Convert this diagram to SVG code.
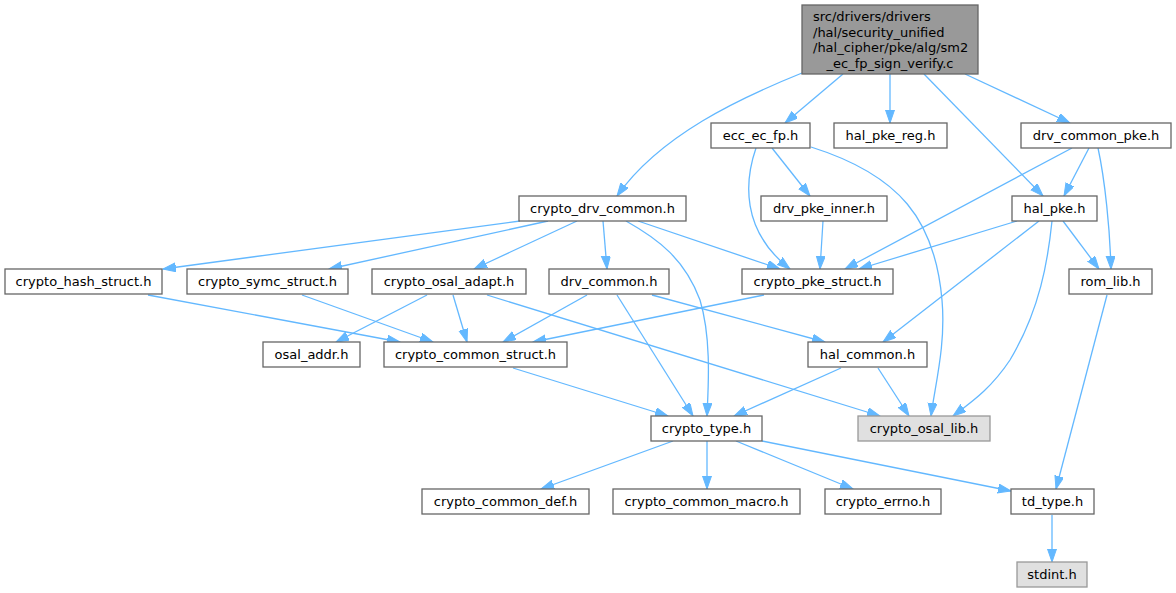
<svg xmlns="http://www.w3.org/2000/svg" width="1176" height="593" viewBox="0 0 1176 593">
<style>
.n rect{fill:#ffffff;stroke:#666666;stroke-width:1.3}
.g rect{fill:#e0e0e0;stroke:#999999;stroke-width:1.3}
.r rect{fill:#999999;stroke:#666666;stroke-width:1.3}
text{font-family:"DejaVu Sans","Liberation Sans",sans-serif;font-size:13px;fill:#000000}
.c{text-anchor:middle}
#edges path{fill:none;stroke:#63b8ff;stroke-width:1.3;marker-end:url(#ah)}
</style>
<defs>
<marker id="ah" markerUnits="userSpaceOnUse" markerWidth="14" markerHeight="10" refX="13" refY="4.5" orient="auto" viewBox="0 0 14 10">
<path d="M0,0 L13,4.5 L0,9 z" fill="#63b8ff" stroke="#63b8ff" stroke-width="1"/>
</marker>
</defs>
<rect width="1176" height="593" fill="#ffffff"/>
<g id="edges">
<path d="M802,73 C740,98 660,135 617,196"/>
<path d="M843,74 L785,123"/>
<path d="M890,74 L890,123"/>
<path d="M924,74 L1043,196"/>
<path d="M965,74 L1070,123"/>
<path d="M772,148 L810,196"/>
<path d="M756,148 C745,180 740,230 790,269"/>
<path d="M811,147 C900,175 935,220 942,300 C946,345 935,385 931,416"/>
<path d="M1072,148 L845,269"/>
<path d="M1089,148 L1064,196"/>
<path d="M1098,148 C1105,180 1110,230 1111,269"/>
<path d="M520,221 L163,269"/>
<path d="M548,221 L329,269"/>
<path d="M577,221 L474,269"/>
<path d="M603,221 L607,269"/>
<path d="M626,221 C660,240 685,260 700,300 C712,340 708,390 707,416"/>
<path d="M638,221 L780,269"/>
<path d="M148,295 L400,342"/>
<path d="M302,295 L433,342"/>
<path d="M427,295 L336,342"/>
<path d="M453,295 L467,342"/>
<path d="M487,295 L880,416"/>
<path d="M587,295 L503,342"/>
<path d="M617,295 L693,416"/>
<path d="M652,295 L825,342"/>
<path d="M764,295 L533,342"/>
<path d="M823,221 L820,269"/>
<path d="M1017,221 L859,269"/>
<path d="M1039,221 L883,342"/>
<path d="M1052,221 C1048,260 1040,310 1010,360 C990,390 970,403 953,416"/>
<path d="M1063,221 L1099,269"/>
<path d="M1107,295 L1056,489"/>
<path d="M841,368 L734,416"/>
<path d="M878,368 L909,416"/>
<path d="M513,368 L668,416"/>
<path d="M673,441 L541,489"/>
<path d="M707,441 L707,489"/>
<path d="M736,441 L853,489"/>
<path d="M762,441 L1011,491"/>
<path d="M1052,515 L1052,562"/>
</g>
<g id="root" class="r"><rect x="802" y="5" width="176" height="69"/>
<text x="813" y="21">src/drivers/drivers</text>
<text x="813" y="36.5">/hal/security_unified</text>
<text x="813" y="52">/hal_cipher/pke/alg/sm2</text>
<text x="890" y="67.5" class="c">_ec_fp_sign_verify.c</text></g>
<g id="ecc_ec_fp" class="n"><rect x="711" y="123" width="99" height="25"/><text x="760.5" y="139.5" class="c">ecc_ec_fp.h</text></g>
<g id="hal_pke_reg" class="n"><rect x="834" y="123" width="113" height="25"/><text x="890.5" y="139.5" class="c">hal_pke_reg.h</text></g>
<g id="drv_common_pke" class="n"><rect x="1021" y="123" width="150" height="25"/><text x="1096" y="139.5" class="c">drv_common_pke.h</text></g>
<g id="crypto_drv_common" class="n"><rect x="519" y="196" width="167" height="25"/><text x="602.5" y="212.5" class="c">crypto_drv_common.h</text></g>
<g id="drv_pke_inner" class="n"><rect x="761" y="196" width="126" height="25"/><text x="824" y="212.5" class="c">drv_pke_inner.h</text></g>
<g id="hal_pke" class="n"><rect x="1012" y="196" width="85" height="25"/><text x="1054.5" y="212.5" class="c">hal_pke.h</text></g>
<g id="crypto_hash_struct" class="n"><rect x="5" y="269" width="157" height="25"/><text x="83.5" y="285.5" class="c">crypto_hash_struct.h</text></g>
<g id="crypto_symc_struct" class="n"><rect x="187" y="269" width="161" height="25"/><text x="267.5" y="285.5" class="c">crypto_symc_struct.h</text></g>
<g id="crypto_osal_adapt" class="n"><rect x="372" y="269" width="154" height="25"/><text x="449" y="285.5" class="c">crypto_osal_adapt.h</text></g>
<g id="drv_common" class="n"><rect x="549" y="269" width="120" height="25"/><text x="609" y="285.5" class="c">drv_common.h</text></g>
<g id="crypto_pke_struct" class="n"><rect x="742" y="269" width="151" height="25"/><text x="817.5" y="285.5" class="c">crypto_pke_struct.h</text></g>
<g id="rom_lib" class="n"><rect x="1069" y="269" width="83" height="25"/><text x="1110.5" y="285.5" class="c">rom_lib.h</text></g>
<g id="osal_addr" class="n"><rect x="263" y="342" width="97" height="25"/><text x="311.5" y="358.5" class="c">osal_addr.h</text></g>
<g id="crypto_common_struct" class="n"><rect x="384" y="342" width="183" height="25"/><text x="475.5" y="358.5" class="c">crypto_common_struct.h</text></g>
<g id="hal_common" class="n"><rect x="808" y="342" width="119" height="25"/><text x="867.5" y="358.5" class="c">hal_common.h</text></g>
<g id="crypto_type" class="n"><rect x="651" y="416" width="111" height="25"/><text x="706.5" y="432.5" class="c">crypto_type.h</text></g>
<g id="crypto_osal_lib" class="g"><rect x="858" y="416" width="132" height="25"/><text x="924" y="432.5" class="c">crypto_osal_lib.h</text></g>
<g id="crypto_common_def" class="n"><rect x="422" y="489" width="167" height="25"/><text x="505.5" y="505.5" class="c">crypto_common_def.h</text></g>
<g id="crypto_common_macro" class="n"><rect x="613" y="489" width="187" height="25"/><text x="706.5" y="505.5" class="c">crypto_common_macro.h</text></g>
<g id="crypto_errno" class="n"><rect x="825" y="489" width="116" height="25"/><text x="883" y="505.5" class="c">crypto_errno.h</text></g>
<g id="td_type" class="n"><rect x="1011" y="489" width="83" height="25"/><text x="1052.5" y="505.5" class="c">td_type.h</text></g>
<g id="stdint" class="g"><rect x="1017" y="562" width="70" height="25"/><text x="1052" y="578.5" class="c">stdint.h</text></g>
</svg>
